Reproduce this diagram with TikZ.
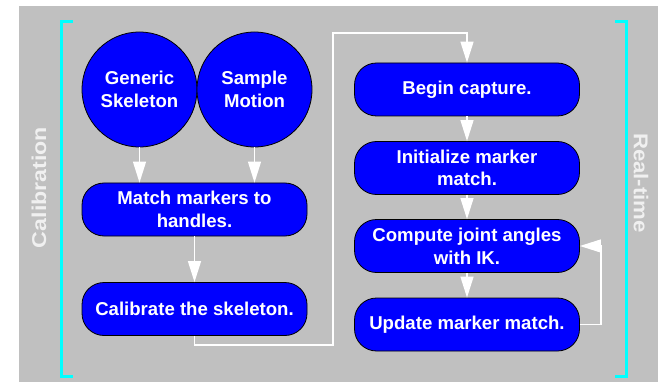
\documentclass[tikz,border=0pt]{standalone}
\usepackage{fontspec}
\setmainfont{Liberation Sans}
\usetikzlibrary{arrows.meta}
\definecolor{bgGrey}{HTML}{C0C0C0}
\definecolor{boxBlue}{HTML}{0000FF}
\definecolor{brCyan}{HTML}{00FFFF}
\definecolor{lblGrey}{HTML}{F0F0F0}
\begin{document}
\begin{tikzpicture}[x=1pt,y=-1pt,
  basefont/.style={font=\bfseries\fontsize{18.6}{22.7}\selectfont},
  circ/.style={circle,draw=black,line width=0.8pt,fill=boxBlue,text=white,basefont,
    minimum size=115pt,inner sep=0pt,align=center},
  stepbox/.style={rectangle,rounded corners=22pt,draw=black,line width=0.8pt,fill=boxBlue,
    text=white,basefont,minimum width=225pt,minimum height=53pt,inner sep=0pt,align=center},
  flow/.style={draw=white,line width=1.3pt,-{Triangle[length=21pt,width=13pt]},fill=none},
  bracket/.style={draw=brCyan,line width=3pt},
  sidelabel/.style={text=lblGrey,font=\bfseries\fontsize{20}{24}\selectfont,inner sep=0pt}
]
\useasboundingbox (0,0) rectangle (658,382);
\fill[white] (0,0) rectangle (658,382);
\fill[bgGrey] (19,6) rectangle (658,382);

% brackets
\draw[bracket] (72.5,22) -- (61.5,22) -- (61.5,376.5) -- (72.5,376.5);
\draw[bracket] (615,22) -- (626,22) -- (626,376.5) -- (615,376.5);

% side labels
\node[sidelabel,rotate=90] (calib) at (39,187.5) {\scalebox{1.16}[1]{Calibration}};
\node[sidelabel,rotate=-90] (rt) at (641,183) {\scalebox{1.11}[1]{Real-time}};

% nodes
\node[circ] (gen) at (139.5,89.5) {Generic\\Skeleton};
\node[circ] (samp) at (254.5,89.5) {Sample\\Motion};
\node[stepbox] (match) at (194.5,209.5) {Match markers to\\handles.};
\node[stepbox] (cal) at (194.5,309) {Calibrate the skeleton.};

\node[stepbox] (begin) at (467,89.5) {Begin capture.};
\node[stepbox] (init) at (467,168) {Initialize marker\\match.};
\node[stepbox] (cmp) at (467,246) {Compute joint angles\\with IK.};
\node[stepbox] (upd) at (467,324.5) {Update marker match.};

\coordinate (c1) at (333,345);
\coordinate (c2) at (333,33);
\coordinate (c3) at (601,246);

% connectors
\draw[flow] (gen.south) -- (gen.south |- match.north);
\draw[flow] (samp.south) -- (samp.south |- match.north);
\draw[flow] (match) -- (cal);
\draw[flow] (cal.south) |- (c1) -- (c2) -| (begin.north);
\draw[flow] (begin) -- (init);
\draw[flow] (init) -- (cmp);
\draw[flow] (cmp) -- (upd);
\draw[flow] (upd.east) -| (c3) -- (cmp.east);
\end{tikzpicture}
\end{document}
